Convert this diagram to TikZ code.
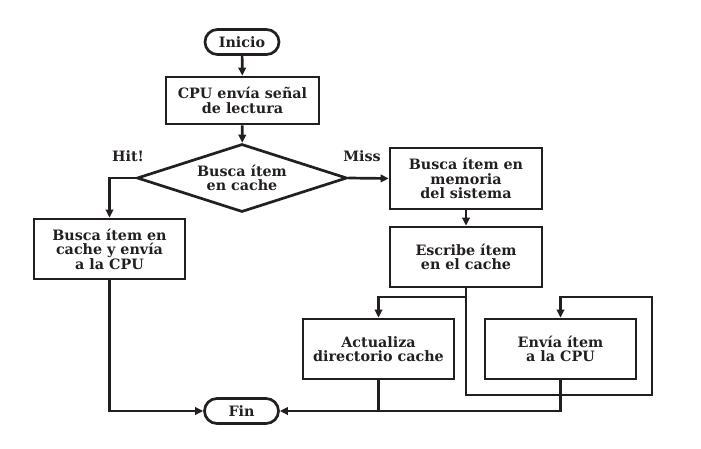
\documentclass[tikz,border=0pt]{standalone}
\usepackage{fontspec}
\setmainfont{DejaVu Serif}
\usetikzlibrary{shapes.geometric,shapes.misc,arrows.meta}
\definecolor{ink}{HTML}{231F20}
\tikzset{
  every node/.style={font=\bfseries\fontsize{14.3}{14.5}\selectfont, text=ink, align=center},
  box/.style={draw=ink, line width=2.7pt, rectangle, inner sep=0pt},
  pill/.style={draw=ink, line width=2.7pt, rounded rectangle, inner sep=0pt, minimum width=74pt, minimum height=25pt},
  decision/.style={draw=ink, line width=2.7pt, diamond, shape aspect=3, inner sep=0pt, minimum width=210pt, minimum height=68pt},
  conn/.style={draw=ink, line width=2.7pt},
  arr/.style={conn, -{Triangle[length=8pt,width=7.5pt]}},
  lbl/.style={inner sep=0pt}
}
\begin{document}
\begin{tikzpicture}[x=1pt,y=-1pt]
\useasboundingbox (0,0) rectangle (701,448);
\node[pill] (inicio) at (242,42) {Inicio};
\node[box, minimum width=153pt, minimum height=47pt] (cpu) at (242.5,100.5) {CPU envía señal\\de lectura};
\node[decision] (dec) at (242,178) {Busca ítem\\en cache};
\node[lbl] (hit) at (128,156) {Hit!};
\node[lbl] (miss) at (362,156) {Miss};
\node[box, minimum width=151pt, minimum height=60pt] (hitbox) at (109.5,249) {Busca ítem en\\cache y envía\\a la CPU};
\node[box, minimum width=152pt, minimum height=61pt] (mem) at (466,178.5) {Busca ítem en\\memoria\\del sistema};
\node[box, minimum width=152pt, minimum height=60pt] (esc) at (466,257) {Escribe ítem\\en el cache};
\node[box, minimum width=151pt, minimum height=60pt] (act) at (378.5,349) {Actualiza\\directorio cache};
\node[box, minimum width=151pt, minimum height=60pt] (env) at (560.5,349) {Envía ítem\\a la CPU};
\node[pill] (fin) at (241.5,411) {Fin};
\coordinate (j1) at (466,297);
\coordinate (l1) at (466,395);
\coordinate (l2) at (652,395);
\coordinate (l3) at (652,297);
\draw[arr] (inicio) -- (cpu);
\draw[arr] (cpu) -- (dec);
\draw[arr] (dec.west) -| (hitbox.north);
\draw[arr] (dec.east) -- (mem.west);
\draw[arr] (mem) -- (esc);
\draw[arr] (esc.south) -- (j1) -| (act.north);
\draw[arr] (j1) -- (l1) -- (l2) -- (l3) -| (env.north);
\draw[arr] (hitbox.south) |- (fin.west);
\draw[arr] (env.south) |- (fin.east);
\draw[conn] (act.south) -- (act.south |- fin.east);
\end{tikzpicture}
\end{document}
